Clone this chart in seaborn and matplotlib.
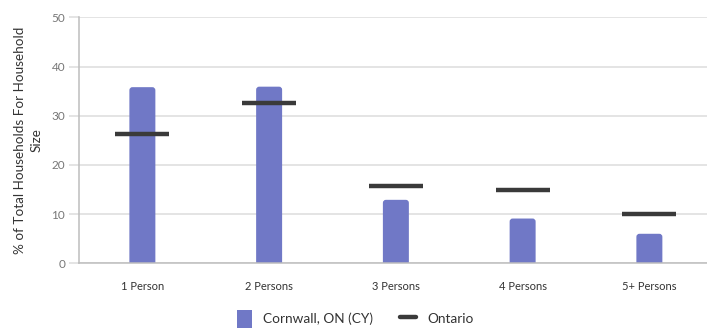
import matplotlib
matplotlib.use("Agg")
import matplotlib.pyplot as plt
from matplotlib.patches import FancyBboxPatch, Patch
from matplotlib.lines import Line2D
import seaborn as sns
import pandas as pd
import numpy as np

# Household size distribution
categories = ["1 Person", "2 Persons", "3 Persons", "4 Persons", "5+ Persons"]
cornwall = [35.8, 35.9, 12.9, 9.1, 6.0]
ontario = [26.3, 32.6, 15.8, 15.0, 10.1]
y_ticks = [0, 10, 20, 30, 40, 50]

sns.set_theme(style="white")
plt.rcParams["font.family"] = ["Lato", "DejaVu Sans"]

BAR_COLOR = "#7078c6"
LINE_COLOR = "#3a3a3a"
GRID_COLOR = "#dddddd"
AXIS_COLOR = "#bdbdbd"

fig = plt.figure(figsize=(7.07, 3.31), dpi=100)
W, H = 707, 331
left_px, right_px, top_px, bottom_px = 79, 712.75, 17.3, 263.3
ax = fig.add_axes([left_px / W, (H - bottom_px) / H,
                   (right_px - left_px) / W, (bottom_px - top_px) / H])

df = pd.DataFrame({"size": categories, "pct": cornwall})
sns.barplot(data=df, x="size", y="pct", color=BAR_COLOR, width=0.205,
            saturation=1, ax=ax, zorder=2)

# swap plain bars for ones with softly rounded corners
for p in list(ax.patches):
    x, w, h = p.get_x(), p.get_width(), p.get_height()
    p.remove()
    r = 0.024
    box = FancyBboxPatch((x, -2), w, h + 2,
                         boxstyle=f"round,pad=0,rounding_size={r}",
                         mutation_aspect=26, facecolor=BAR_COLOR,
                         edgecolor="none", zorder=2, clip_on=True)
    ax.add_patch(box)

# Ontario reference values as short horizontal markers
xs = np.arange(len(categories))
ax.hlines(ontario, xs - 0.213, xs + 0.213, colors=LINE_COLOR,
          linewidth=3.2, zorder=3)

ax.set_xlim(-0.5, len(categories) - 0.5)
ax.set_ylim(0, 50)
ax.set_yticks(y_ticks)
ax.yaxis.grid(True, color=GRID_COLOR, linewidth=1.1, zorder=0)
ax.set_axisbelow(True)

for side in ["top", "right"]:
    ax.spines[side].set_visible(False)
for side in ["left", "bottom"]:
    ax.spines[side].set_color(AXIS_COLOR)
    ax.spines[side].set_linewidth(1.1)

ax.set_xticks(xs)
ax.set_xticks(np.arange(len(categories) + 1) - 0.5, minor=True)
ax.tick_params(axis="x", which="major", length=0, pad=13,
               labelsize=8, labelcolor="#333333")
ax.tick_params(axis="x", which="minor", length=6, width=1.1,
               color=AXIS_COLOR, direction="out")
ax.tick_params(axis="y", length=7, width=1.1, color=GRID_COLOR,
               labelsize=8.5, labelcolor="#777777", pad=3, left=True)

ax.set_xlabel("")
ax.set_ylabel("% of Total Households For Household\nSize",
              fontsize=9.7, color="#333333", labelpad=6.5, linespacing=1.45)

handles = [
    Patch(facecolor=BAR_COLOR, edgecolor="none", label="Cornwall, ON (CY)"),
    Line2D([0], [0], color=LINE_COLOR, linewidth=3.2, label="Ontario"),
]
fig.legend(handles=handles, loc="center", bbox_to_anchor=(355 / W, 12 / H),
           ncol=2, frameon=False, fontsize=9.8, handlelength=1.15,
           handleheight=1.7, handletextpad=0.8, columnspacing=2.0,
           labelcolor="#333333")

fig.savefig("out.png", dpi=100)
